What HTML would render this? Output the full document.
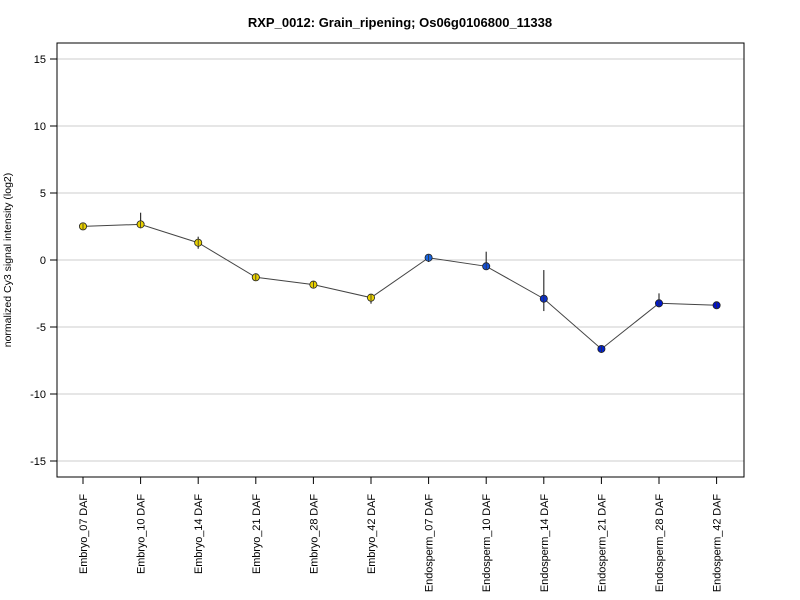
<!DOCTYPE html>
<html><head><meta charset="utf-8"><style>
body{margin:0;background:#fff}
svg{display:block;font-family:"Liberation Sans",Arial,sans-serif}
</style></head><body>
<svg id="chart" width="800" height="600" xmlns="http://www.w3.org/2000/svg">
<text x="400" y="27" text-anchor="middle" font-size="13" font-weight="bold">RXP_0012: Grain_ripening; Os06g0106800_11338</text>
<text transform="translate(11,260) rotate(-90)" text-anchor="middle" font-size="10.5">normalized Cy3 signal intensity (log2)</text>
<g id="grid"></g><g id="axes"></g><g id="series"></g>
<rect x="57" y="43" width="687" height="434" fill="none" stroke="#000"/>
</svg>
<script>
const categories=["Embryo_07 DAF","Embryo_10 DAF","Embryo_14 DAF","Embryo_21 DAF","Embryo_28 DAF","Embryo_42 DAF","Endosperm_07 DAF","Endosperm_10 DAF","Endosperm_14 DAF","Endosperm_21 DAF","Endosperm_28 DAF","Endosperm_42 DAF"];
const values=[2.51,2.66,1.29,-1.29,-1.84,-2.81,0.17,-0.47,-2.89,-6.64,-3.23,-3.38];
const errHigh=[2.51,3.53,1.74,-1.29,-1.84,-2.81,0.17,0.62,-0.75,-6.64,-2.49,-3.38];
const errLow=[2.51,2.66,0.84,-1.29,-1.84,-3.26,-0.15,-0.47,-3.81,-6.64,-3.53,-3.38];
const colors=["#e8d000","#e8d000","#e8d000","#e8d000","#e8d000","#e8d000","#1a66e0","#1450d8","#0a30d0","#0020cc","#0018cc","#0010c8"];
const yTicks=[15,10,5,0,-5,-10,-15];
const NS="http://www.w3.org/2000/svg";
const y=v=>260-v*13.4;
const x=i=>83+i*57.6;
function mk(tag,attrs,parent){const e=document.createElementNS(NS,tag);for(const k in attrs)e.setAttribute(k,attrs[k]);document.getElementById(parent).appendChild(e);return e;}
yTicks.forEach(t=>{
  const g=mk("line",{x1:57,x2:744,y1:y(t),y2:y(t),stroke:"#ccc"},"grid");
  
  
  const tk=mk("line",{x1:50,x2:57,y1:y(t),y2:y(t),stroke:"#000"},"axes");
  
  
  const lb=mk("text",{x:46,y:y(t)+4,"text-anchor":"end","font-size":11},"axes");
  lb.textContent=t;
  
  
});
categories.forEach((c,i)=>{
  const tk=mk("line",{x1:x(i),x2:x(i),y1:477,y2:484,stroke:"#000"},"axes");
  
  
  const lb=mk("text",{transform:`translate(${x(i)+4},494) rotate(-90)`,"text-anchor":"end","font-size":11,"letter-spacing":"-0.1"},"axes");
  lb.textContent=c;
  
  
});
const pl=mk("polyline",{points:values.map((v,i)=>x(i)+","+y(v)).join(" "),fill:"none",stroke:"#444","stroke-width":1},"series");


values.forEach((v,i)=>{
  const e=mk("line",{x1:x(i),x2:x(i),y1:y(errHigh[i]),y2:y(errLow[i]),stroke:"#333","stroke-width":1.2},"series");
  
  
  const p=mk("circle",{cx:x(i),cy:y(v),r:3.6,fill:colors[i],stroke:"#222","stroke-width":0.8},"series");
  
  
  const e2=mk("line",{x1:x(i),x2:x(i),y1:y(v)-3,y2:y(v)+3,stroke:"#333","stroke-width":0.8},"series");
  
  
});
</script>
</body></html>
